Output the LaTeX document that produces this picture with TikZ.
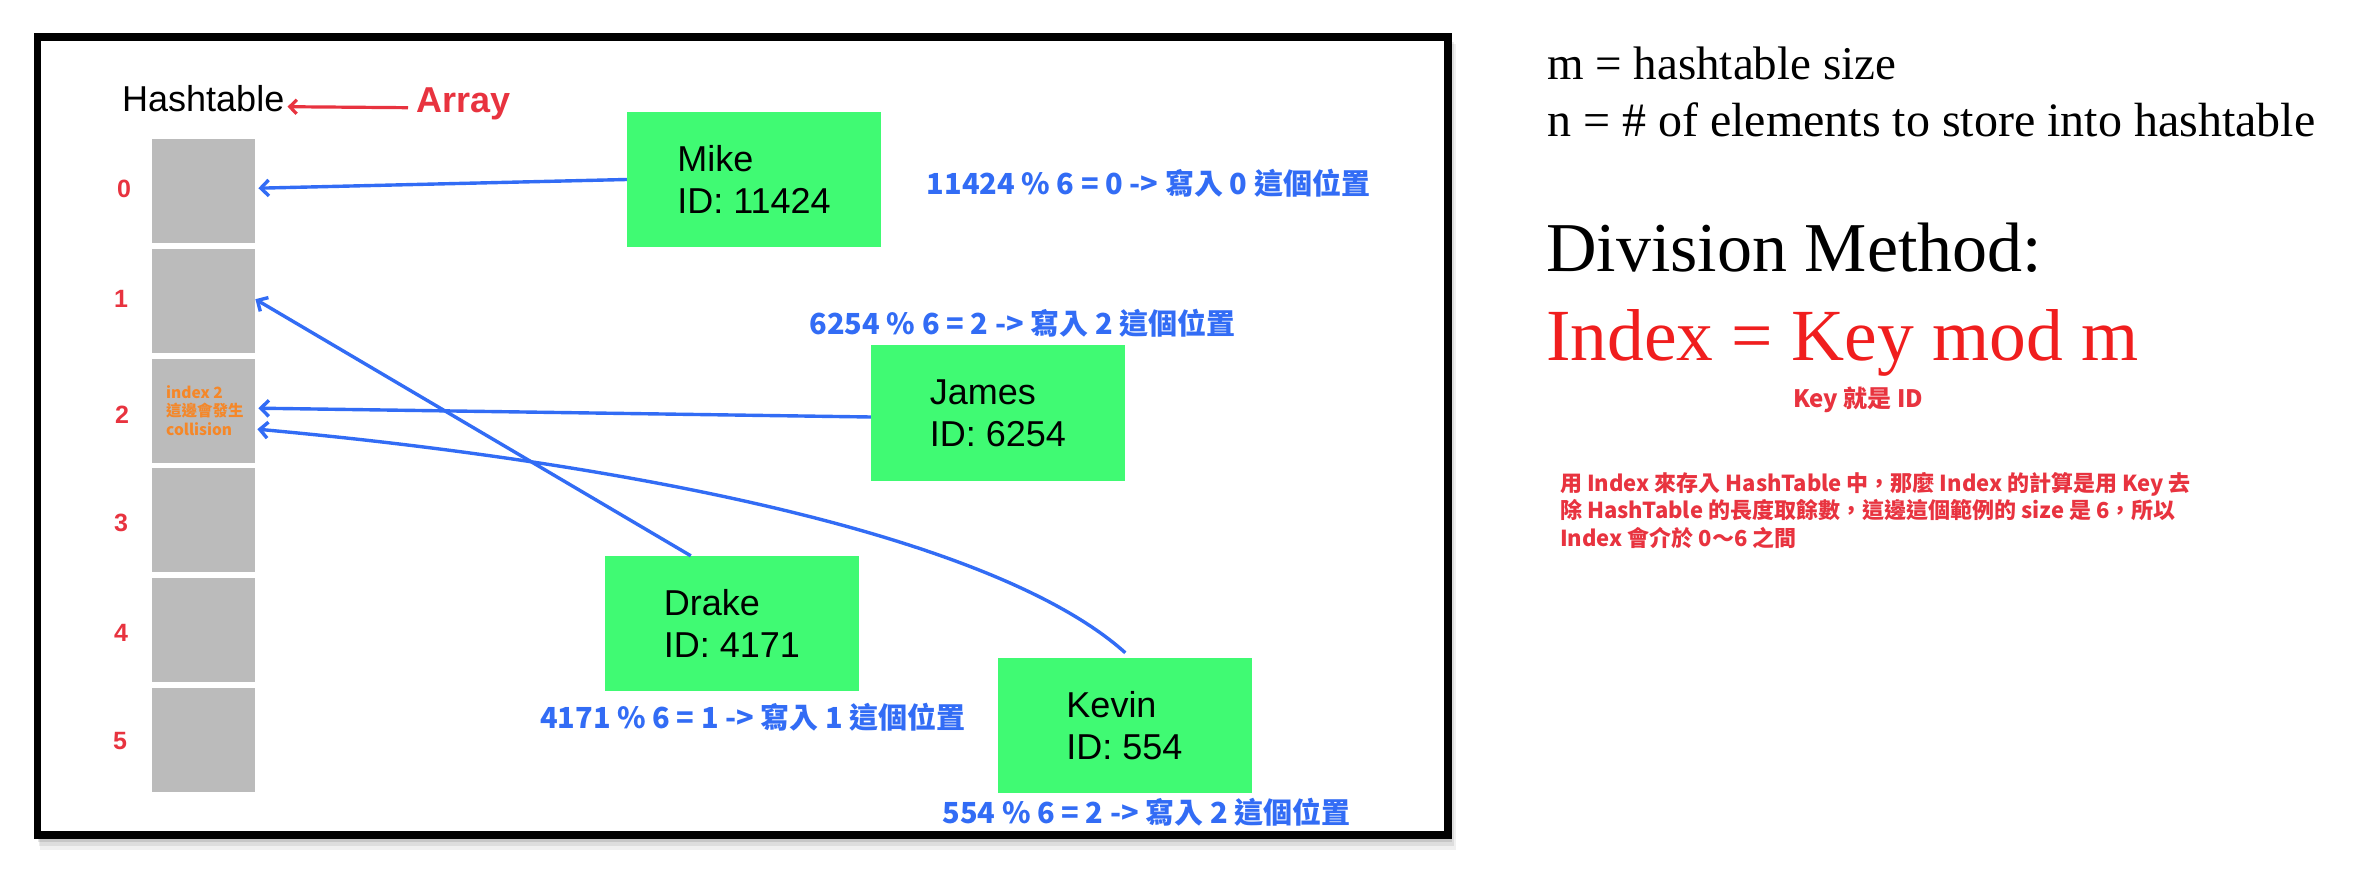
\documentclass[tikz,border=0pt]{standalone}
\usepackage{fontspec}
\setmainfont{Liberation Serif}
\setsansfont{Liberation Sans}
\newfontfamily\cjk{Noto Sans CJK TC}
\usetikzlibrary{arrows.meta}
\definecolor{gboxc}{RGB}{64,250,115}
\definecolor{cellc}{RGB}{187,187,187}
\definecolor{blc}{RGB}{50,108,245}
\definecolor{rdc}{RGB}{232,51,63}
\definecolor{orc}{RGB}{245,135,40}
\definecolor{ikc}{RGB}{240,30,30}
\newcommand{\pxf}[2]{\fontsize{#1}{#2}\selectfont}
\begin{document}
\begin{tikzpicture}[x=1pt,y=-1pt,
  cellbox/.style={fill=cellc, minimum width=103pt, minimum height=104pt, inner sep=0pt, anchor=north west},
  idxlab/.style={text=rdc, font=\sffamily\bfseries\pxf{25}{28}, inner sep=0pt},
  person/.style={fill=gboxc, minimum width=254pt, minimum height=135pt, inner sep=0pt, align=left, font=\sffamily\pxf{36}{42}},
  conn/.style={draw=blc, line width=3.4pt, -{Straight Barb[length=8pt,width=16pt]}},
  calclab/.style={text=blc, font=\cjk\bfseries\pxf{29}{34}, inner sep=0pt, anchor=base},
  serifline/.style={anchor=base west, inner sep=0pt},
]
\useasboundingbox (0,0) rectangle (2372,874);
\fill[white] (0,0) rectangle (2372,874);
% frame shadow
\fill[black, opacity=0.06] (40,44) rectangle (1456,850);
\fill[black, opacity=0.08] (39,42) rectangle (1454,846);
\fill[black, opacity=0.10] (38,40) rectangle (1452,842);
\fill[white] (37.5,37) rectangle (1448,835);
\draw[line width=7.5pt] (37.5,37) rectangle (1448,835);

% hashtable header
\node[anchor=base west, inner sep=0pt, font=\sffamily\pxf{36}{40}] (ht) at (122,112) {Hashtable};
\node[anchor=base west, inner sep=0pt, text=rdc, font=\sffamily\bfseries\pxf{36}{40}] (arr) at (416,113) {Array};
\draw[rdc, line width=3.2pt, -{Straight Barb[length=7pt,width=14pt]}] ([shift={(-8,-3)}]arr.mid west) -- ([shift={(3,-3)}]ht.mid east);

% cells
\node[cellbox] (c0) at (152,139) {};
\node[cellbox] (c1) at (152,249) {};
\node[cellbox] (c2) at (152,359) {};
\node[cellbox] (c3) at (152,468) {};
\node[cellbox] (c4) at (152,578) {};
\node[cellbox] (c5) at (152,688) {};
\node[idxlab] (i0) at (124,189) {0};
\node[idxlab] (i1) at (121,299) {1};
\node[idxlab] (i2) at (122,415) {2};
\node[idxlab] (i3) at (121,523) {3};
\node[idxlab] (i4) at (121,633) {4};
\node[idxlab] (i5) at (120,741) {5};
\node[anchor=north west, inner sep=0pt, align=left, text=orc, font=\cjk\bfseries\pxf{15.5}{18.5}] (coll) at (166,385) {index 2\\這邊會發生\\collision};

% people
\node[person] (mike) at (754,179.5) {Mike\\ID: 11424};
\node[person] (james) at (998,413) {James\\ID: 6254};
\node[person] (drake) at (732,623.5) {Drake\\ID: 4171};
\node[person] (kevin) at (1124.5,725.5) {Kevin\\ID: 554};

% connectors
\draw[conn] (mike.west) -- ([shift={(3,-3)}]c0.east);
\draw[conn] ([yshift=-4]james.west) -- ([shift={(3,-3)}]c2.east);
\draw[conn] ([xshift=86]drake.north west) -- ([shift={(0,-2)}]c1.east);
\draw[conn] ([shift={(128,-5)}]kevin.north west) .. controls (1000,540) and (650,465) .. ([shift={(2,18)}]c2.east);

% calc labels
\node[calclab] (l0) at (1148.5,195) {11424 \% 6 = 0 -> 寫入 0 這個位置};
\node[calclab] (l2) at (1022.5,335) {6254 \% 6 = 2 -> 寫入 2 這個位置};
\node[calclab] (l1) at (753,728) {4171 \% 6 = 1 -> 寫入 1 這個位置};
\node[calclab] (l5) at (1146.5,823) {554 \% 6 = 2 -> 寫入 2 這個位置};

% right side
\node[serifline, font=\rmfamily\pxf{47}{52}] (mdef) at (1547,80) {m = hashtable size};
\node[serifline, font=\rmfamily\pxf{48}{52}] (ndef) at (1547,137) {n = \# of elements to store into hashtable};
\node[serifline, font=\rmfamily\pxf{70}{76}] (div) at (1546,272) {Division Method:};
\node[serifline, text=ikc, font=\rmfamily\pxf{73.5}{80}] (form) at (1546,361) {Index = Key mod m};
\node[anchor=base, inner sep=0pt, text=rdc, font=\cjk\bfseries\pxf{24}{28}] (keyid) at (1858,408) {Key 就是 ID};
\node[anchor=north west, inner sep=0pt, align=left, text=rdc, font=\cjk\bfseries\pxf{22}{27.5}] (para) at (1560,472) {用 Index 來存入 HashTable 中，那麼 Index 的計算是用 Key 去\\除 HashTable 的長度取餘數，這邊這個範例的 size 是 6，所以\\Index 會介於 0～6 之間};
\end{tikzpicture}
\end{document}
